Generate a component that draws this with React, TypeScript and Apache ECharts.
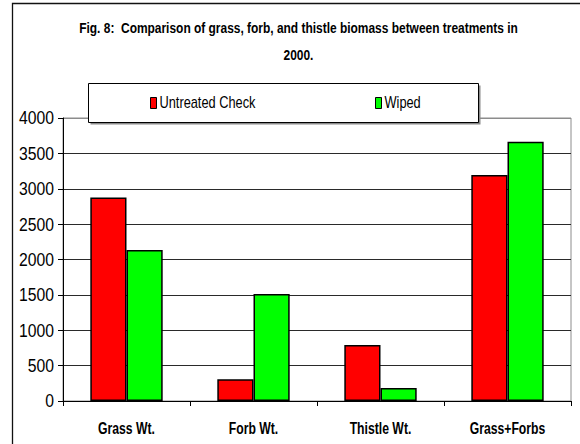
import React, { useEffect, useRef } from "react";
import * as echarts from "echarts";

// Biomass by treatment
const categories = ["Grass Wt.", "Forb Wt.", "Thistle Wt.", "Grass+Forbs"];
const untreatedCheck = [2875, 307, 790, 3195];
const wiped = [2134, 1512, 184, 3665];
const seriesNames = ["Untreated Check", "Wiped"];
const yTickValues = [0, 500, 1000, 1500, 2000, 2500, 3000, 3500, 4000];
const titleLines = [
  "Fig. 8:  Comparison of grass, forb, and thistle biomass between treatments in",
  "2000.",
];

const FONT = "'Liberation Sans', Arial, sans-serif";
const COLORS = ["#ff0000", "#00ff00"];

// width of a string in a given CSS font, used to squeeze labels horizontally
function textWidth(text: string, font: string): number {
  const ctx = document.createElement("canvas").getContext("2d");
  if (!ctx) return text.length * 8;
  ctx.font = font;
  return ctx.measureText(text).width;
}

export default function App() {
  const ref = useRef<HTMLDivElement>(null);

  useEffect(() => {
    if (!ref.current) return;
    const chart = echarts.init(ref.current, undefined, { renderer: "svg" });

    const last = yTickValues.length - 1;
    const gridColors = yTickValues.map((_, i) => (i === last ? "#8c8c8c" : "#2a2a2a"));

    chart.setOption({
      animation: false,
      backgroundColor: "#fff",
      grid: {
        left: 63,
        right: 9,
        top: 118,
        bottom: 43,
        show: true,
        borderColor: "#8c8c8c",
        borderWidth: 1,
        backgroundColor: "transparent",
      },
      xAxis: {
        type: "category",
        data: categories,
        axisLine: { show: true, lineStyle: { color: "#000", width: 1 } },
        axisTick: { show: true, length: 5, lineStyle: { color: "#000" } },
        axisLabel: { show: false },
        splitLine: { show: false },
      },
      yAxis: {
        type: "value",
        min: yTickValues[0],
        max: yTickValues[last],
        interval: yTickValues[1] - yTickValues[0],
        axisLine: { show: true, lineStyle: { color: "#000", width: 1 } },
        axisTick: { show: true, length: 5, lineStyle: { color: "#000" } },
        axisLabel: { show: false },
        splitLine: { show: true, lineStyle: { color: gridColors, width: 1 } },
      },
      series: [
        {
          name: seriesNames[0],
          type: "bar",
          data: untreatedCheck,
          barGap: "0%",
          barCategoryGap: "43%",
          itemStyle: { color: COLORS[0], borderColor: "#000", borderWidth: 1.5 },
        },
        {
          name: seriesNames[1],
          type: "bar",
          data: wiped,
          itemStyle: { color: COLORS[1], borderColor: "#000", borderWidth: 1.5 },
        },
      ],
    });

    // condensed lettering: squeeze each text class to its printed width
    const tickFont = `18.5px ${FONT}`;
    const catFont = `bold 16.5px ${FONT}`;
    const titleFont = `bold 15px ${FONT}`;
    const legendFont = `16px ${FONT}`;
    const tickScale = 35 / textWidth("4000", tickFont);
    const catScale = 57 / textWidth("Grass Wt.", catFont);
    const titleScale = 439 / textWidth(titleLines[0], titleFont);
    const legendScale = 96 / textWidth(seriesNames[0], legendFont);

    const txt = (
      text: string,
      x: number,
      y: number,
      font: string,
      scaleX: number,
      align: string
    ) => ({
      type: "text",
      x,
      y,
      scaleX,
      z: 120,
      silent: true,
      style: {
        text,
        font,
        fill: "#000",
        align,
        verticalAlign: "middle",
      },
    });

    const yLabels = yTickValues.map((v) =>
      txt(String(v), 54, chart.convertToPixel({ yAxisIndex: 0 }, v) as number, tickFont, tickScale, "right")
    );
    const xLabels = categories.map((c) =>
      txt(c, chart.convertToPixel({ xAxisIndex: 0 }, c) as number, 428, catFont, catScale, "center")
    );
    const title = titleLines.map((line, i) =>
      txt(line, 298.5, 28.5 + i * 26.5, titleFont, titleScale, "center")
    );

    // legend box with a hard grey drop shadow
    const legendX = 88.5;
    const legendY = 83.5;
    const legendW = 390;
    const legendH = 39;
    const itemX = [150, 375];
    const legend = [
      {
        type: "rect",
        z: 110,
        silent: true,
        shape: { x: legendX + 2, y: legendY + 2, width: legendW, height: legendH },
        style: { fill: "#8a8a8a" },
      },
      {
        type: "rect",
        z: 111,
        silent: true,
        shape: { x: legendX, y: legendY, width: legendW, height: legendH },
        style: { fill: "#fff", stroke: "#000", lineWidth: 1 },
      },
      ...seriesNames.flatMap((name, i) => [
        {
          type: "rect",
          z: 115,
          silent: true,
          shape: { x: itemX[i] + 0.5, y: 97.5, width: 6, height: 11 },
          style: { fill: COLORS[i], stroke: "#000", lineWidth: 1 },
        },
        txt(name, itemX[i] + 9.5, 102.5, legendFont, legendScale, "left"),
      ]),
    ];

    chart.setOption({
      graphic: [
        {
          type: "rect",
          silent: true,
          z: 100,
          shape: { x: 12.5, y: 3.5, width: 600, height: 500 },
          style: { fill: "none", stroke: "#111", lineWidth: 1.3 },
        },
        ...title,
        ...legend,
        ...yLabels,
        ...xLabels,
      ],
    });

    return () => chart.dispose();
  }, []);

  return (
    <div
      ref={ref}
      style={{ position: "absolute", left: 0, top: 0, width: 580, height: 444 }}
    />
  );
}
